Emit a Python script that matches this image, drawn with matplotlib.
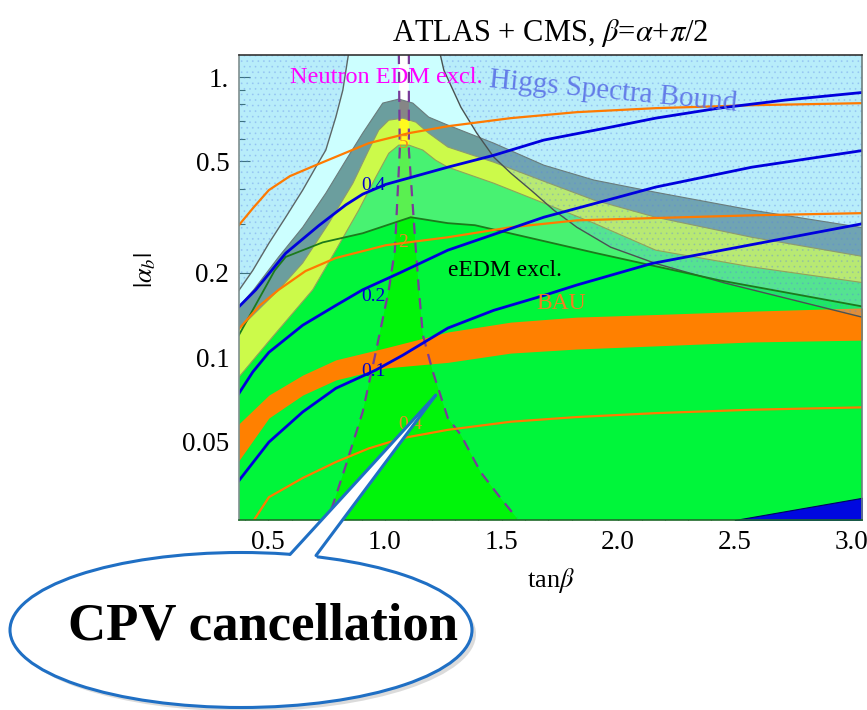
import numpy as np
import matplotlib.pyplot as plt
from matplotlib.patches import Ellipse, Polygon
from matplotlib.ticker import NullFormatter

plt.rcParams['font.family'] = ['Liberation Serif', 'DejaVu Serif']
plt.rcParams['mathtext.fontset'] = 'stix'
plt.rcParams['hatch.linewidth'] = 0.6

X_LO, X_HI = 0.375, 3.045
Y_LO, Y_HI = 0.0262, 1.2
EXT_LO, EXT_HI = 0.02, 1.5   # off-frame values used to close filled regions

# Higgs spectra bound (left / right branches)
higgs_left_x = [0.37, 0.434, 0.503, 0.575, 0.648, 0.704, 0.747, 0.790, 0.820, 0.845]
higgs_left_y = [0.171, 0.204, 0.255, 0.316, 0.395, 0.477, 0.549, 0.720, 0.899, 1.22]
higgs_right_x = [1.236, 1.253, 1.326, 1.394, 1.467, 1.540, 1.626, 1.724, 1.823, 1.968, 2.161, 2.457, 3.06]
higgs_right_y = [1.22, 1.059, 0.781, 0.631, 0.518, 0.454, 0.395, 0.335, 0.291, 0.247, 0.216, 0.184, 0.138]

# ATLAS + CMS fit regions (outer, middle, inner boundaries)
outer_x = [0.37, 0.438, 0.545, 0.648, 0.747, 0.833, 0.905, 0.991, 1.060, 1.120, 1.188, 1.261, 1.467, 1.681, 1.896, 2.161, 2.573, 3.06]
outer_y = [0.150, 0.174, 0.228, 0.291, 0.385, 0.505, 0.631, 0.808, 0.835, 0.808, 0.720, 0.679, 0.581, 0.485, 0.429, 0.388, 0.335, 0.289]
middle_x = [0.37, 0.545, 0.648, 0.760, 0.863, 0.931, 0.974, 1.017, 1.077, 1.133, 1.188, 1.270, 1.467, 1.681, 1.896, 2.161, 2.573, 3.06]
middle_y = [0.125, 0.174, 0.217, 0.301, 0.418, 0.549, 0.647, 0.702, 0.714, 0.691, 0.631, 0.563, 0.497, 0.425, 0.364, 0.316, 0.268, 0.228]
inner_x = [0.37, 0.507, 0.691, 0.790, 0.888, 0.961, 1.017, 1.060, 1.103, 1.163, 1.218, 1.270, 1.467, 1.681, 1.896, 2.161, 2.573, 3.06]
inner_y = [0.084, 0.115, 0.174, 0.241, 0.335, 0.439, 0.535, 0.572, 0.572, 0.549, 0.505, 0.477, 0.418, 0.355, 0.301, 0.241, 0.210, 0.184]

# electron EDM bound
eedm_x = [0.37, 0.528, 0.575, 0.734, 0.905, 1.111, 1.270, 1.386, 1.908, 2.436, 3.06]
eedm_y = [0.118, 0.204, 0.228, 0.257, 0.277, 0.316, 0.301, 0.296, 0.235, 0.188, 0.151]

# neutron EDM bound (two branches)
nedm_left_x = [1.060, 1.064, 1.043, 1.017, 0.961, 0.905, 0.833, 0.777, 0.747]
nedm_left_y = [1.22, 0.549, 0.241, 0.174, 0.104, 0.0637, 0.0411, 0.0296, 0.0258]
nedm_right_x = [1.103, 1.103, 1.133, 1.146, 1.163, 1.206, 1.270, 1.326, 1.411, 1.497, 1.566]
nedm_right_y = [1.22, 0.549, 0.241, 0.174, 0.120, 0.0885, 0.0606, 0.0527, 0.0388, 0.0313, 0.0266]

# BAU band
bau_x = [0.37, 0.503, 0.648, 0.790, 1.004, 1.270, 1.540, 1.823, 2.161, 2.573, 3.06]
bau_hi = [0.0573, 0.0732, 0.0863, 0.0978, 0.108, 0.123, 0.1334, 0.139, 0.142, 0.146, 0.150]
bau_lo = [0.0422, 0.0606, 0.0732, 0.0829, 0.0915, 0.0958, 0.1034, 0.1069, 0.1097, 0.1133, 0.1151]

# blue contours
blue_levels = ['0.4', '0.2', '0.1']
blue_x = [
    [0.37, 0.447, 0.575, 0.717, 0.833, 0.905, 1.004, 1.270, 1.467, 1.681, 1.968, 2.161, 2.431, 2.714, 3.06],
    [0.37, 0.434, 0.503, 0.648, 0.790, 0.905, 1.064, 1.270, 1.681, 2.161, 2.573, 3.06],
    [0.37, 0.503, 0.648, 0.790, 0.961, 1.077, 1.270, 1.467, 1.681, 1.823, 2.144, 3.06],
]
blue_y = [
    [0.150, 0.174, 0.235, 0.295, 0.350, 0.382, 0.414, 0.477, 0.526, 0.596, 0.663, 0.714, 0.775, 0.828, 0.884],
    [0.0732, 0.0885, 0.104, 0.130, 0.153, 0.174, 0.200, 0.241, 0.316, 0.405, 0.477, 0.549],
    [0.0358, 0.0497, 0.0637, 0.0774, 0.0899, 0.1016, 0.127, 0.147, 0.166, 0.181, 0.216, 0.301],
]
blue_label_x = [0.953, 0.953, 0.953]
blue_label_y = [0.411, 0.164, 0.0885]

# orange contours
orange_levels = ['5', '2', '0.4']
orange_x = [
    [0.37, 0.438, 0.503, 0.593, 0.704, 0.931, 1.103, 1.270, 1.540, 1.823, 2.161, 2.573, 3.06],
    [0.37, 0.464, 0.545, 0.660, 0.790, 1.004, 1.270, 1.540, 1.823, 2.161, 2.573, 3.06],
    [0.434, 0.503, 0.648, 0.790, 0.931, 1.077, 1.270, 1.540, 1.823, 2.161, 2.573, 3.06],
]
orange_y = [
    [0.293, 0.343, 0.395, 0.443, 0.485, 0.581, 0.631, 0.668, 0.714, 0.750, 0.775, 0.794, 0.808],
    [0.125, 0.153, 0.174, 0.203, 0.226, 0.251, 0.268, 0.291, 0.308, 0.314, 0.321, 0.327],
    [0.0258, 0.0316, 0.0370, 0.0422, 0.0472, 0.0514, 0.0550, 0.0588, 0.0611, 0.0631, 0.0649, 0.0662],
]
orange_label_x = [1.081, 1.077, 1.111]
orange_label_y = [0.581, 0.257, 0.0573]

# corner region at large tan(beta)
corner_x = [2.5, 3.06]
corner_y = [0.0262, 0.0316]

# pointer tip of the callout
cpv_x, cpv_y = 1.218, 0.0731

fig = plt.figure(figsize=(8.67, 7.10), dpi=100)
ax = fig.add_axes([239 / 867, 1 - 520 / 710, 623 / 867, 465 / 710])
ax.set_yscale('log')
ax.set_xlim(X_LO, X_HI)
ax.set_ylim(Y_LO, Y_HI)
ax.set_facecolor('white')


def region(x, y, color, z):
    pts = list(zip(x, y)) + [(x[-1], EXT_LO), (x[0], EXT_LO)]
    p = Polygon(pts, closed=True, facecolor=color, edgecolor='none', zorder=z)
    ax.add_patch(p)
    return p


region(outer_x, outer_y, '#868686', 1)
region(middle_x, middle_y, '#fffa1e', 2)
inner_patch = region(inner_x, inner_y, '#5af050', 3)
eedm_patch = region(eedm_x, eedm_y, '#00f50a', 4)
eedm_patch.set_clip_path(inner_patch)

# neutron EDM excluded: light cyan wash outside the dashed branches
ax.fill(nedm_left_x + [nedm_left_x[-1], 0.3, 0.3, nedm_left_x[0]],
        nedm_left_y + [EXT_LO, EXT_LO, EXT_HI, EXT_HI],
        color='cyan', alpha=0.2, lw=0, zorder=5)
ax.fill(nedm_right_x + [nedm_right_x[-1], 3.2, 3.2, nedm_right_x[0]],
        nedm_right_y + [EXT_LO, EXT_LO, EXT_HI, EXT_HI],
        color='cyan', alpha=0.2, lw=0, zorder=5)

ax.fill_between(bau_x, bau_lo, bau_hi, color='#ff8000', lw=0, zorder=6)
ax.fill_between(corner_x, EXT_LO, corner_y, color='#0008e0', edgecolor='#000060', lw=0.8, zorder=6)

# Higgs spectra excluded: bluish wash with dot texture
hl_x = higgs_left_x + [0.3, 0.3]
hl_y = higgs_left_y + [EXT_HI, higgs_left_y[0]]
hr_x = higgs_right_x + [3.2, 3.2]
hr_y = higgs_right_y + [higgs_right_y[-1], EXT_HI]
for hx, hy in [(hl_x, hl_y), (hr_x, hr_y)]:
    ax.fill(hx, hy, color='#7fb8ee', alpha=0.25, lw=0, zorder=7)
    ax.fill(hx, hy, facecolor='none', edgecolor=(0.35, 0.5, 0.9, 0.25), hatch='...', lw=0, zorder=7)

# boundary lines
ax.plot(outer_x, outer_y, color='#6a7c7c', lw=0.8, zorder=8)
ax.plot(middle_x, middle_y, color='#8c9a70', lw=0.8, zorder=8)
ax.plot(inner_x, inner_y, color='#94a25a', lw=0.8, zorder=8)
ax.plot(higgs_left_x, higgs_left_y, color='#5c6666', lw=1.0, zorder=8)
ax.plot(higgs_right_x, higgs_right_y, color='#4a5252', lw=1.0, zorder=8)
ax.plot(eedm_x, eedm_y, color='#1c7a1c', lw=1.3, zorder=8)
ax.plot(nedm_left_x, nedm_left_y, color='#7a3a9a', lw=1.6, ls=(0, (5, 3.5)), zorder=9)
ax.plot(nedm_right_x, nedm_right_y, color='#7a3a9a', lw=1.6, ls=(0, (5, 3.5)), zorder=9)

for xs, ys in zip(orange_x, orange_y):
    ax.plot(xs, ys, color='#ff7a00', lw=1.6, zorder=9)
for xs, ys in zip(blue_x, blue_y):
    ax.plot(xs, ys, color='#0000dd', lw=2.0, zorder=9)

for lab, lx, ly in zip(blue_levels, blue_label_x, blue_label_y):
    ax.text(lx, ly, lab, color='#0000cc', fontsize=14, ha='center', va='center', zorder=10)
for lab, lx, ly in zip(orange_levels, orange_label_x, orange_label_y):
    ax.text(lx, ly, lab, color='#f08a20', fontsize=14, ha='center', va='center', zorder=10)

ax.text(0.593, 0.952, 'Neutron EDM excl.', color='#ff00ff', fontsize=17.5,
        ha='left', va='baseline', zorder=11)
ax.text(1.977, 0.884, 'Higgs Spectra Bound', color='#5a70e6', alpha=0.9, fontsize=21,
        rotation=-5.5, ha='center', va='center', rotation_mode='anchor', zorder=11)
ax.text(1.514, 0.204, 'eEDM excl.', color='black', fontsize=17, ha='center', va='center', zorder=11)
ax.text(1.758, 0.156, 'BAU', color='#f08020', fontsize=17, ha='center', va='center', zorder=11)

# axes, ticks and labels
ax.set_xticks([0.5, 1.0, 1.5, 2.0, 2.5, 3.0])
ax.set_xticklabels(['0.5', '1.0', '1.5', '2.0', '2.5', '3.0'])
ax.set_xticks(np.arange(0.4, 3.05, 0.1), minor=True)
ax.set_yticks([0.05, 0.1, 0.2, 0.5, 1.0])
ax.set_yticklabels(['0.05', '0.1', '0.2', '0.5', '1.'])
ax.set_yticks([0.03, 0.04, 0.06, 0.07, 0.08, 0.09, 0.3, 0.4, 0.6, 0.7, 0.8, 0.9], minor=True)
ax.yaxis.set_minor_formatter(NullFormatter())
ax.tick_params(which='both', direction='in', top=False, right=False, color='#333333', width=0.8)
ax.tick_params(which='major', length=8, labelsize=19.5, pad=7)
ax.tick_params(which='minor', length=4)
for side, col in [('top', '#333333'), ('left', '#7f8f8f'), ('right', '#6f7f7f'), ('bottom', '#1f6a2a')]:
    ax.spines[side].set_color(col)
    ax.spines[side].set_linewidth(1.2)
    ax.spines[side].set_zorder(12)

ax.set_title(r'ATLAS + CMS, $\beta$=$\alpha$+$\pi$/2', fontsize=22, pad=10)
ax.set_xlabel(r'tan$\beta$', fontsize=19, labelpad=8)
ax.set_ylabel(r'$|\alpha_b|$', fontsize=19)
ax.yaxis.set_label_coords(-0.13, 0.538)

# speech-bubble callout drawn in figure pixels
ov = fig.add_axes([0, 0, 1, 1], zorder=5)
ov.set_xlim(0, 867)
ov.set_ylim(710, 0)
ov.axis('off')
tip = ov.transData.inverted().transform(ax.transData.transform((cpv_x, cpv_y)))

ov.add_patch(Ellipse((245, 634), 462, 155, facecolor='#9a9a9a', edgecolor='none', alpha=0.35))
ov.add_patch(Ellipse((241, 630), 462, 155, facecolor='white', edgecolor='#1f6fc4', lw=2.2))
ov.add_patch(Polygon([(288, 563), (290, 554.5), tuple(tip), (316, 555.5), (318, 563)],
                     closed=True, facecolor='white', edgecolor='none'))
ov.plot([290, tip[0]], [554.5, tip[1]], color='#1f6fc4', lw=2.2, solid_capstyle='round')
ov.plot([316, tip[0]], [555.5, tip[1]], color='#1f6fc4', lw=2.2, solid_capstyle='round')
ov.text(263, 626, 'CPV cancellation', fontsize=38, fontweight='bold', color='black',
        ha='center', va='center')

fig.savefig('out.png', dpi=100)
